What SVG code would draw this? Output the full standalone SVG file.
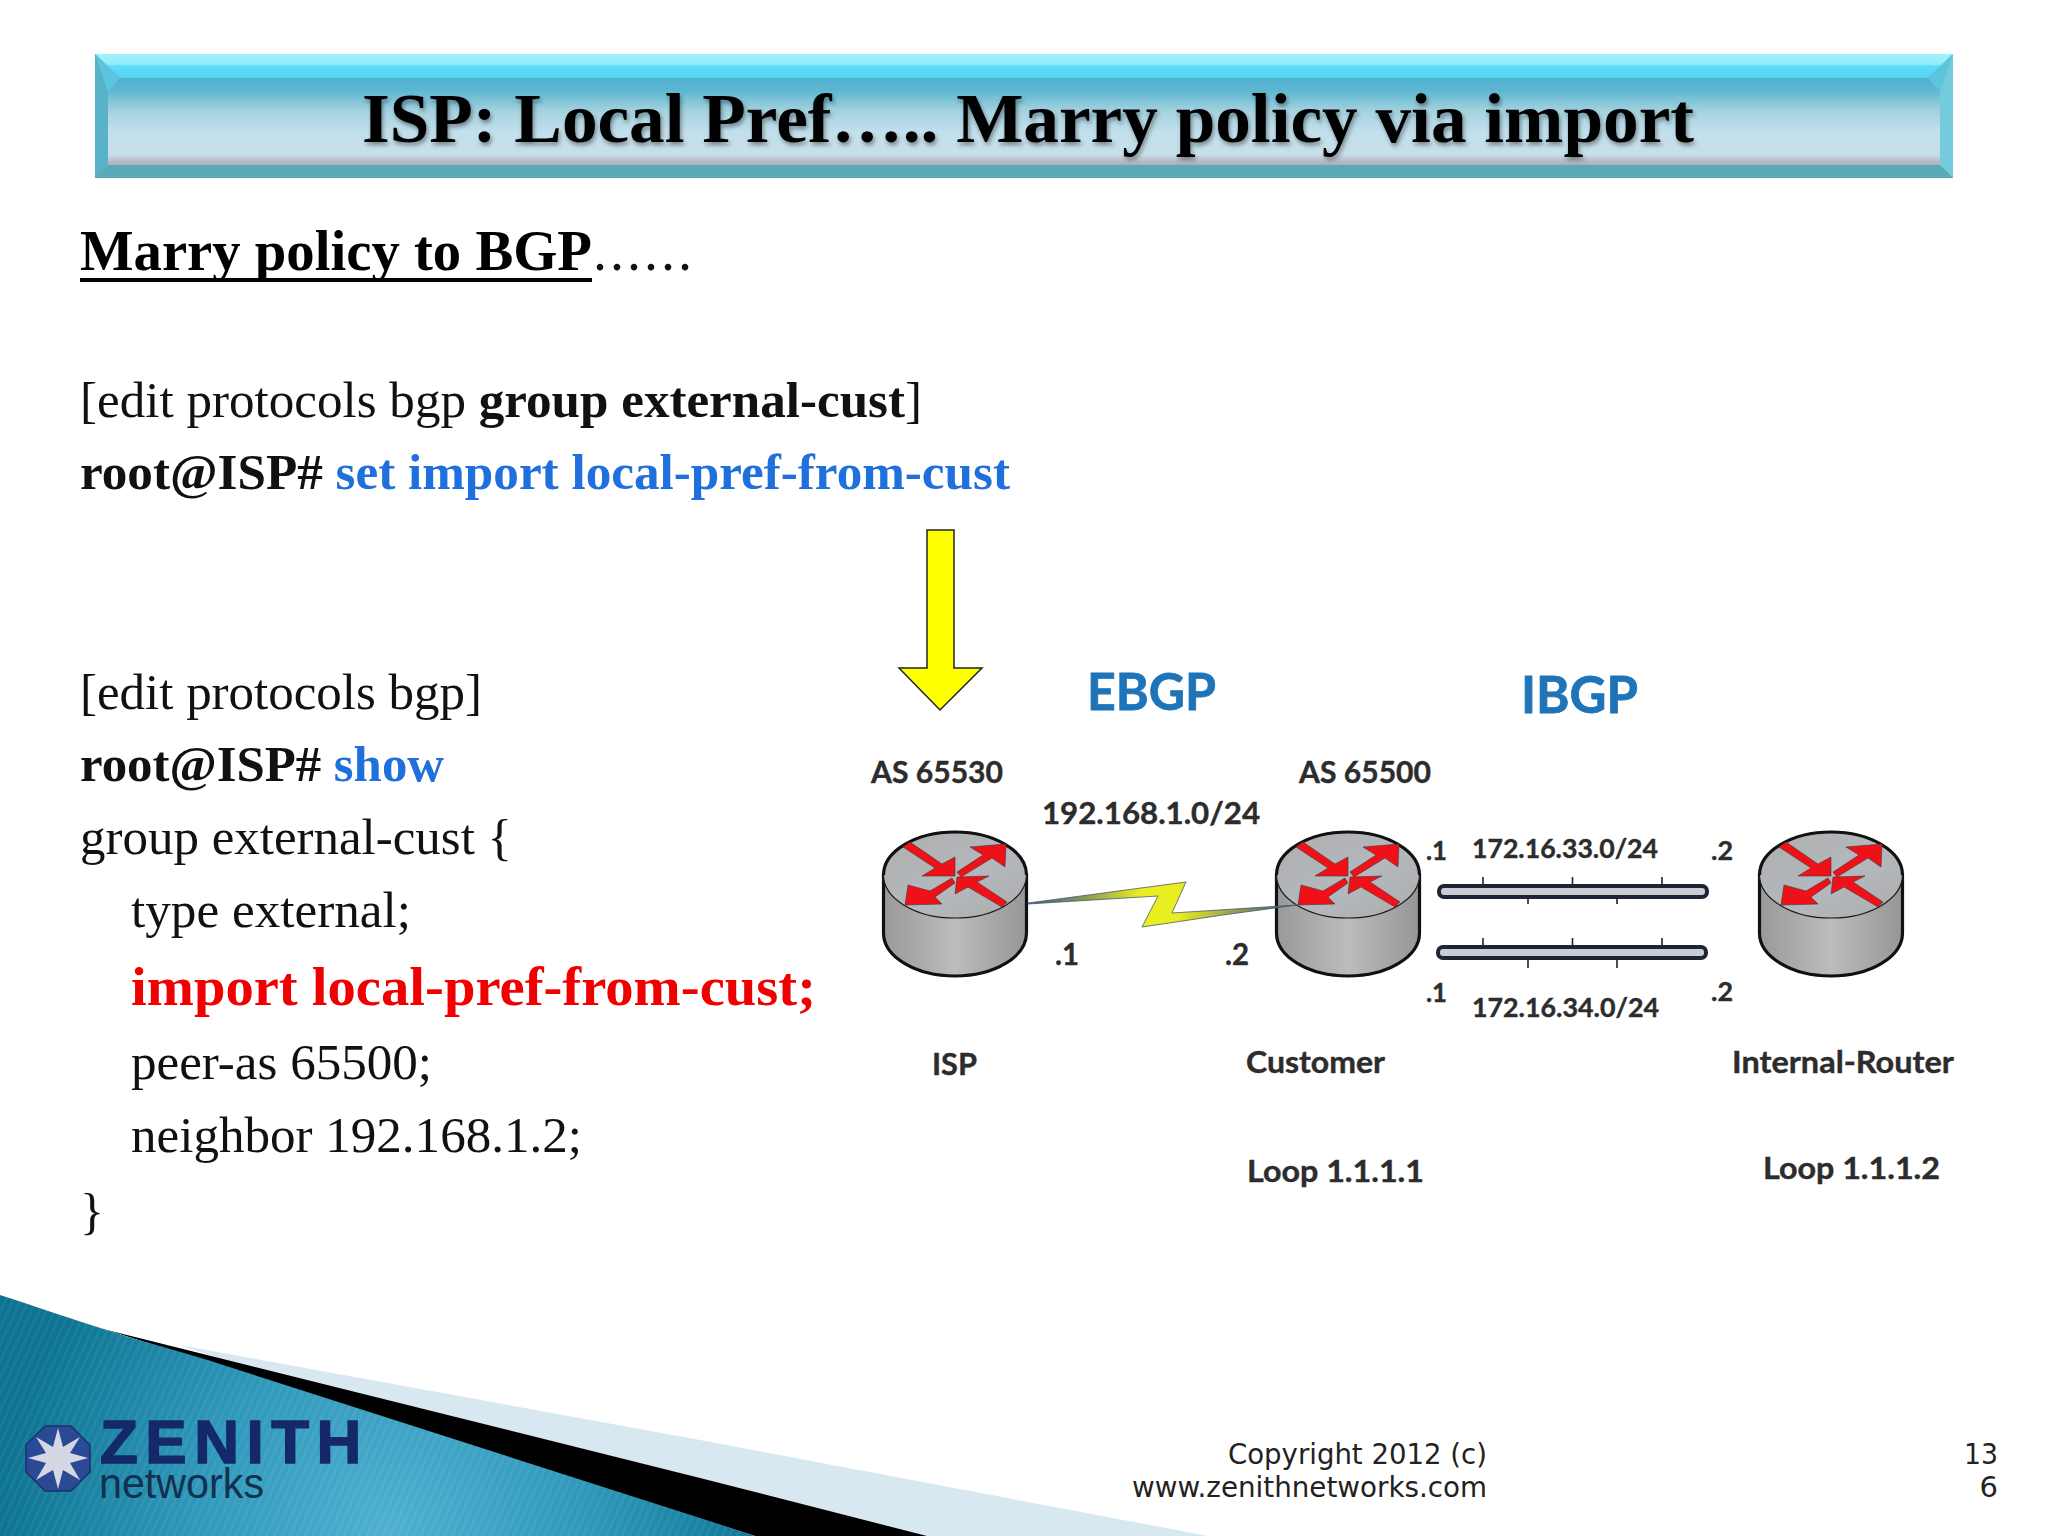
<svg xmlns="http://www.w3.org/2000/svg" width="2048" height="1536" viewBox="0 0 2048 1536">
<style>
.b{font-family:"Liberation Serif","Times New Roman",serif;font-size:50px;fill:#111}
.bb{font-weight:700}
.blue{fill:#1f6fdc}
.l{font-family:Lato,"Liberation Sans",sans-serif;font-weight:700;font-size:30px;fill:#2c2c2c;stroke:#2c2c2c;stroke-width:.4}
.l2{font-size:26px}
.eb{font-size:52px;fill:#1f74b8;stroke:#1f74b8;stroke-width:.8}
.f{font-family:"DejaVu Sans",sans-serif;font-size:29px;fill:#222}
.rt{fill:url(#rtop);stroke:#1a1a1a;stroke-width:1.2}
.rs{fill:url(#rside);stroke:#111;stroke-width:3.2}
.ra{fill:#f01018;stroke:#3a3a3a;stroke-width:.6}
.bus{fill:#c9ced4;stroke:#1d2433;stroke-width:4}
.tick{stroke:#222;stroke-width:1.6}
</style>
<defs>
<linearGradient id="bt" x1="0" y1="0" x2="0" y2="1"><stop offset="0" stop-color="#a0f2fb"/><stop offset=".42" stop-color="#92ecf9"/><stop offset=".5" stop-color="#5fdcf7"/><stop offset="1" stop-color="#52d6f4"/></linearGradient>
<linearGradient id="bm" x1="0" y1="0" x2="0" y2="1"><stop offset="0" stop-color="#52b2d2"/><stop offset=".14" stop-color="#5cb6d2"/><stop offset=".38" stop-color="#a5d2df"/><stop offset=".62" stop-color="#c2dfec"/><stop offset=".88" stop-color="#c6e0e9"/><stop offset=".95" stop-color="#bdbcc8"/><stop offset="1" stop-color="#a8b0b8"/></linearGradient>
<linearGradient id="rtop" x1="0" y1="0" x2="1" y2="1"><stop offset="0" stop-color="#aeaeae"/><stop offset=".55" stop-color="#b4b8bd"/><stop offset="1" stop-color="#acacac"/></linearGradient>
<linearGradient id="rside" x1="0" y1="0" x2="1" y2="0"><stop offset="0" stop-color="#999"/><stop offset=".5" stop-color="#bcbcbc"/><stop offset="1" stop-color="#969696"/></linearGradient>
<linearGradient id="bolt" gradientUnits="userSpaceOnUse" x1="1028" y1="0" x2="1297" y2="0"><stop offset="0" stop-color="#3a5a80"/><stop offset=".22" stop-color="#8f9a50"/><stop offset=".42" stop-color="#e8ee20"/><stop offset=".56" stop-color="#e8ee20"/><stop offset=".78" stop-color="#8f9a50"/><stop offset="1" stop-color="#3a5a80"/></linearGradient>
<radialGradient id="teal" gradientUnits="userSpaceOnUse" cx="390" cy="1530" r="390"><stop offset="0" stop-color="#4fb0d0"/><stop offset=".5" stop-color="#2f98bb"/><stop offset="1" stop-color="#0c7390"/></radialGradient>
<pattern id="st" width="7" height="7" patternUnits="userSpaceOnUse" patternTransform="rotate(25)"><rect width="3" height="7" fill="#fff" opacity=".05"/></pattern>
<filter id="sh" x="-5%" y="-20%" width="110%" height="150%"><feDropShadow dx="1.500" dy="3" stdDeviation="2" flood-color="#000" flood-opacity=".4"/></filter>
<g id="router">
<path class="rs" d="M-71.500 0V58A71.500 43 0 0 0 71.500 58V0Z"/>
<ellipse class="rt" cx="0" cy="0" rx="71.500" ry="43"/>
<path class="rs" style="fill:none" d="M-71.500 0A71.500 43 0 0 1 71.500 0"/>
<path class="ra" d="M-52-28L-45-33L-13-11L0-18L0 1L-33 1L-20-7Z"/>
<path class="ra" d="M2-3L28-20L15-28L51-31L50-8L37-17L6 2Z"/>
<path class="ra" d="M-3 3L-25 16L-47 10L-50 30L-13 29L-20 22L0 8Z"/>
<path class="ra" d="M52 27L22 7L34 1L2 2L0 19L13 12L47 32Z"/>
</g>
</defs>
<rect width="2048" height="1536" fill="#fff"/>

<g id="footer-art">
<path d="M179 1345L700 1440L1208 1536H755Z" fill="#d7e8f0"/>
<path d="M107 1330L700 1478L927 1536H755Z" fill="#000"/>
<path id="wave" d="M0 1295C40 1308 75 1320 107 1330C145 1343 185 1352 223 1365L700 1518L755 1536H0Z" fill="url(#teal)"/>
<path d="M0 1295C40 1308 75 1320 107 1330C145 1343 185 1352 223 1365L700 1518L755 1536H0Z" fill="url(#st)"/>
</g>

<g id="logo">
<path d="M45 1426H71L90 1445V1472L71 1491H45L26 1472V1445Z" fill="#2b4a96" stroke="#1d2f6e" stroke-width="1.500"/>
<path d="M58 1428L63 1447L80 1437L70 1453L88 1458L70 1463L80 1480L63 1470L58 1489L53 1470L36 1480L46 1463L28 1458L46 1453L36 1437L53 1447Z" fill="#d5d8e2"/>
<text x="100" y="1463" style="font-family:'Liberation Sans',sans-serif;font-weight:700;font-size:62px;letter-spacing:7.500px;fill:#14286a;stroke:#14286a;stroke-width:1.500">ZENITH</text>
<text x="99" y="1498" textLength="165" lengthAdjust="spacingAndGlyphs" style="font-family:'Liberation Sans',sans-serif;font-size:42px;fill:#12304f">networks</text>
</g>

<g id="banner">
<rect x="95" y="54" width="1858" height="124" fill="#5bb0c2"/>
<path d="M95 54H1953L1928 78H120Z" fill="url(#bt)"/>
<path d="M95 54L118 78L108 165L95 178Z" fill="#58b3c8"/>
<path d="M1953 54L1930 78L1940 165L1953 178Z" fill="#74cbdc"/>
<path d="M95 178L108 165H1940L1953 178Z" fill="#5aa9b8"/>
<path d="M108 92L120 78H1928L1940 92V165H108Z" fill="url(#bm)"/>
<path d="M120 78L108 92L95 54ZM1928 78L1940 92L1953 54Z" fill="#5cc4dc"/>
<text x="362" y="142" textLength="1332" lengthAdjust="spacingAndGlyphs" filter="url(#sh)" style="font-family:'Liberation Serif',serif;font-weight:700;font-size:70px;fill:#050505">ISP: Local Pref….. Marry policy via import</text>
</g>

<g id="body-text">
<text class="b bb" x="80" y="270" textLength="512" lengthAdjust="spacingAndGlyphs" style="font-size:57px;fill:#000">Marry policy to BGP</text>
<rect x="80" y="278" width="512" height="4" fill="#000"/>
<text class="b" x="593" y="270" style="font-size:56px;letter-spacing:3px">......</text>
<text class="b" x="80" y="417" textLength="842" lengthAdjust="spacingAndGlyphs">[edit protocols bgp <tspan class="bb">group external-cust</tspan>]</text>
<text class="b bb" x="80" y="489" textLength="930" lengthAdjust="spacingAndGlyphs">root@ISP# <tspan class="blue">set import local-pref-from-cust</tspan></text>
<text class="b" x="80" y="709" textLength="402" lengthAdjust="spacingAndGlyphs">[edit protocols bgp]</text>
<text class="b bb" x="80" y="781" textLength="364" lengthAdjust="spacingAndGlyphs">root@ISP# <tspan class="blue">show</tspan></text>
<text class="b" x="80" y="854" textLength="432" lengthAdjust="spacingAndGlyphs">group external-cust {</text>
<text class="b" x="131" y="927" textLength="280" lengthAdjust="spacingAndGlyphs">type external;</text>
<text class="b bb" x="131" y="1005" textLength="685" lengthAdjust="spacingAndGlyphs" style="font-size:55px;fill:#f00000">import local-pref-from-cust;</text>
<text class="b" x="131" y="1079" textLength="301" lengthAdjust="spacingAndGlyphs">peer-as 65500;</text>
<text class="b" x="131" y="1152" textLength="451" lengthAdjust="spacingAndGlyphs">neighbor 192.168.1.2;</text>
<text class="b" x="80" y="1228">}</text>
</g>

<g id="pointer-arrow"><path d="M927 530H954V668H982L940 710L899 668H927Z" fill="#ffff00" stroke="#222" stroke-width="1.500"/></g>

<g id="isp"><use href="#router" x="955" y="875"/></g>
<g id="customer"><use href="#router" x="1348" y="875"/></g>
<g id="internal-router"><use href="#router" x="1831" y="875"/></g>

<g id="connectors">
<path d="M1028 903L1186 882L1172 913L1297 905L1223 915L1142 927L1158 896L1028 904Z" fill="url(#bolt)" stroke="#4a5a70" stroke-width=".8"/>
<g id="bus1"><rect class="bus" x="1439" y="886" width="268" height="11" rx="5"/><path class="tick" d="M1483 877V886M1572.500 877V886M1662 877V886M1528 897V904M1617 897V904"/></g>
<g id="bus2"><rect class="bus" x="1438" y="947" width="268" height="11" rx="5"/><path class="tick" d="M1483 938V947M1572.500 938V947M1662 938V947M1528 958V968M1617 958V968"/></g>
</g>

<g id="labels">
<text class="l eb" x="1087" y="710" textLength="129" lengthAdjust="spacingAndGlyphs">EBGP</text>
<text class="l eb" x="1521" y="713" textLength="117" lengthAdjust="spacingAndGlyphs">IBGP</text>
<text class="l" x="871" y="783" textLength="132" lengthAdjust="spacingAndGlyphs">AS 65530</text>
<text class="l" x="1299" y="783" textLength="132" lengthAdjust="spacingAndGlyphs">AS 65500</text>
<text class="l" x="1042" y="824" textLength="218" lengthAdjust="spacingAndGlyphs">192.168.1.0/24</text>
<text class="l" x="1055" y="965" textLength="24" lengthAdjust="spacingAndGlyphs">.1</text>
<text class="l" x="1225" y="965" textLength="24" lengthAdjust="spacingAndGlyphs">.2</text>
<text class="l l2" x="1426" y="860" textLength="21" lengthAdjust="spacingAndGlyphs">.1</text>
<text class="l l2" x="1472" y="858" textLength="186" lengthAdjust="spacingAndGlyphs">172.16.33.0/24</text>
<text class="l l2" x="1711" y="860" textLength="22" lengthAdjust="spacingAndGlyphs">.2</text>
<text class="l l2" x="1426" y="1002" textLength="21" lengthAdjust="spacingAndGlyphs">.1</text>
<text class="l l2" x="1472" y="1017" textLength="187" lengthAdjust="spacingAndGlyphs">172.16.34.0/24</text>
<text class="l l2" x="1711" y="1001" textLength="22" lengthAdjust="spacingAndGlyphs">.2</text>
<text class="l" x="932" y="1075" textLength="45" lengthAdjust="spacingAndGlyphs">ISP</text>
<text class="l" x="1246" y="1073" textLength="139" lengthAdjust="spacingAndGlyphs">Customer</text>
<text class="l" x="1732" y="1073" textLength="222" lengthAdjust="spacingAndGlyphs">Internal-Router</text>
<text class="l" x="1247" y="1182" textLength="177" lengthAdjust="spacingAndGlyphs">Loop 1.1.1.1</text>
<text class="l" x="1763" y="1179" textLength="177" lengthAdjust="spacingAndGlyphs">Loop 1.1.1.2</text>
</g>

<g id="footer-text">
<text class="f" x="1228" y="1464" textLength="259" lengthAdjust="spacingAndGlyphs">Copyright 2012 (c)</text>
<text class="f" x="1132" y="1497" textLength="355" lengthAdjust="spacingAndGlyphs">www.zenithnetworks.com</text>
<text class="f" x="1964" y="1464" textLength="34" lengthAdjust="spacingAndGlyphs">13</text>
<text class="f" x="1998" y="1497" text-anchor="end">6</text>
</g>
</svg>
